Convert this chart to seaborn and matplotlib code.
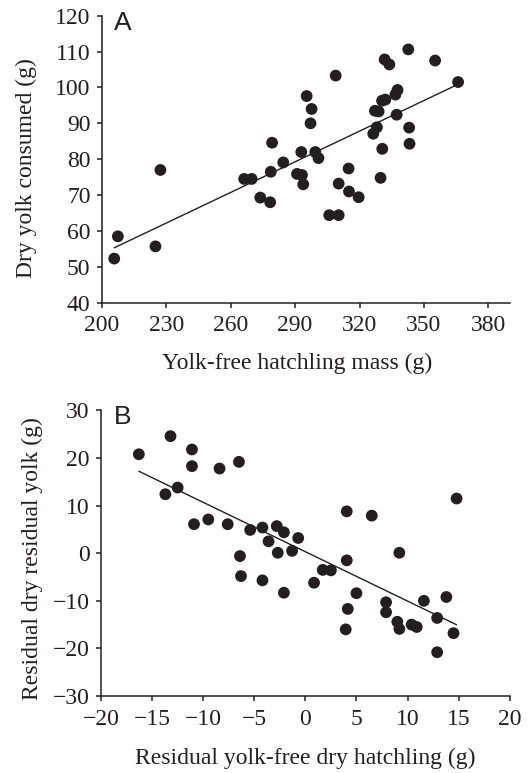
import numpy as np
import pandas as pd
import seaborn as sns
import matplotlib
matplotlib.use('Agg')
import matplotlib.pyplot as plt

# panel A: yolk-free hatchling mass vs dry yolk consumed
mass_a = [205.8, 207.5, 225.0, 227.3, 266.3, 269.8, 273.8, 278.4, 278.7, 279.3,
          284.5, 290.9, 293.2, 293.8, 292.9, 295.4, 297.7, 297.2, 299.4, 300.9,
          308.9, 314.9, 310.3, 315.1, 319.6, 305.9, 310.3, 331.7, 333.9, 342.7,
          355.2, 365.9, 337.7, 336.7, 330.5, 332.0, 327.2, 328.9, 337.3, 328.1,
          326.4, 343.1, 343.3, 330.6, 329.8]
yolk_a = [52.3, 58.5, 55.7, 77.0, 74.5, 74.5, 69.3, 68.0, 76.5, 84.6,
          79.1, 75.9, 75.6, 73.0, 82.0, 97.6, 94.0, 90.0, 82.0, 80.3,
          103.3, 77.4, 73.2, 71.0, 69.4, 64.4, 64.4, 107.8, 106.4, 110.6,
          107.5, 101.5, 99.3, 98.0, 96.3, 96.6, 93.5, 93.3, 92.4, 88.9,
          87.1, 88.8, 84.3, 82.9, 74.8]

# panel B: residuals
resid_x_b = [-16.3, -13.2, -11.1, -11.1, -8.4, -6.5, -12.5, -13.7, -10.9, -9.5,
             -7.6, -5.4, -4.2, -2.8, -2.1, -3.6, -0.7, -2.7, -1.3, -6.4,
             -6.3, -4.2, -2.1, 4.05, 6.5, 14.8, 9.2, 4.05, 1.7, 2.5,
             0.85, 5.0, 4.15, 3.95, 7.9, 7.9, 9.0, 9.2, 10.4, 10.9,
             11.6, 13.8, 12.9, 14.5, 12.9]
resid_y_b = [20.8, 24.6, 21.8, 18.3, 17.8, 19.2, 13.8, 12.4, 6.1, 7.1,
             6.1, 4.9, 5.4, 5.7, 4.4, 2.5, 3.2, 0.1, 0.5, -0.6,
             -4.8, -5.7, -8.3, 8.8, 7.9, 11.5, 0.1, -1.5, -3.5, -3.6,
             -6.2, -8.4, -11.7, -16.0, -10.3, -12.4, -14.4, -15.9, -15.0, -15.5,
             -10.0, -9.2, -13.6, -16.8, -20.8]

df_a = pd.DataFrame({'mass': mass_a, 'yolk': yolk_a})
df_b = pd.DataFrame({'rx': resid_x_b, 'ry': resid_y_b})

sns.set_style('ticks')
plt.rcParams['font.family'] = ['Liberation Serif', 'DejaVu Serif']
plt.rcParams['axes.linewidth'] = 1.1
plt.rcParams['xtick.major.width'] = 1.1
plt.rcParams['ytick.major.width'] = 1.1
plt.rcParams['xtick.major.size'] = 3.6
plt.rcParams['ytick.major.size'] = 3.6
plt.rcParams['xtick.color'] = '#231f20'
plt.rcParams['ytick.color'] = '#231f20'
plt.rcParams['text.color'] = '#231f20'
plt.rcParams['axes.labelcolor'] = '#231f20'
plt.rcParams['axes.edgecolor'] = '#231f20'

fig = plt.figure(figsize=(5.3, 7.73), dpi=100)
ax1 = fig.add_axes([0.192, 0.6084, 0.770, 0.3713])
ax2 = fig.add_axes([0.1906, 0.0996, 0.7711, 0.3694])

dot = dict(s=72, color='#231f20', edgecolor='none', alpha=1)
line = dict(color='#231f20', linewidth=1.0)
fs = 17

sns.regplot(data=df_a, x='mass', y='yolk', ax=ax1, ci=None, scatter_kws=dot, line_kws=line)
ax1.set_xlim(200, 390)
ax1.set_ylim(40, 120)
ax1.set_xticks(np.arange(200, 381, 30))
ax1.set_yticks(np.arange(40, 121, 10))
ax1.set_xlabel('Yolk-free hatchling mass (g)', fontsize=fs)
ax1.set_ylabel('Dry yolk consumed (g)', fontsize=fs)
ax1.xaxis.set_label_coords(0.478, -0.175)
ax1.yaxis.set_label_coords(-0.158, 0.47)
ax1.tick_params(axis='x', labelsize=fs, pad=5.5)
ax1.tick_params(axis='y', labelsize=fs, pad=4.5)
ax1.text(0.031, 1.018, 'A', transform=ax1.transAxes, fontsize=19, va='top', ha='left',
         family=['Liberation Sans', 'DejaVu Sans'])

sns.regplot(data=df_b, x='rx', y='ry', ax=ax2, ci=None, scatter_kws=dot, line_kws=line)
ax2.set_xlim(-20, 20)
ax2.set_ylim(-30, 30)
ax2.set_xticks(np.arange(-20, 21, 5))
ax2.set_yticks(np.arange(-30, 31, 10))
ax2.set_xlabel('Residual yolk-free dry hatchling (g)', fontsize=fs)
ax2.set_ylabel('Residual dry residual yolk (g)', fontsize=fs)
ax2.xaxis.set_label_coords(0.5, -0.18)
ax2.yaxis.set_label_coords(-0.142, 0.483)
ax2.tick_params(axis='x', labelsize=fs, pad=5.5)
ax2.tick_params(axis='y', labelsize=fs, pad=4.5)
ax2.text(0.031, 1.02, 'B', transform=ax2.transAxes, fontsize=19, va='top', ha='left',
         family=['Liberation Sans', 'DejaVu Sans'])

for ax in (ax1, ax2):
    sns.despine(ax=ax)

fig.savefig('out.png', dpi=100)
